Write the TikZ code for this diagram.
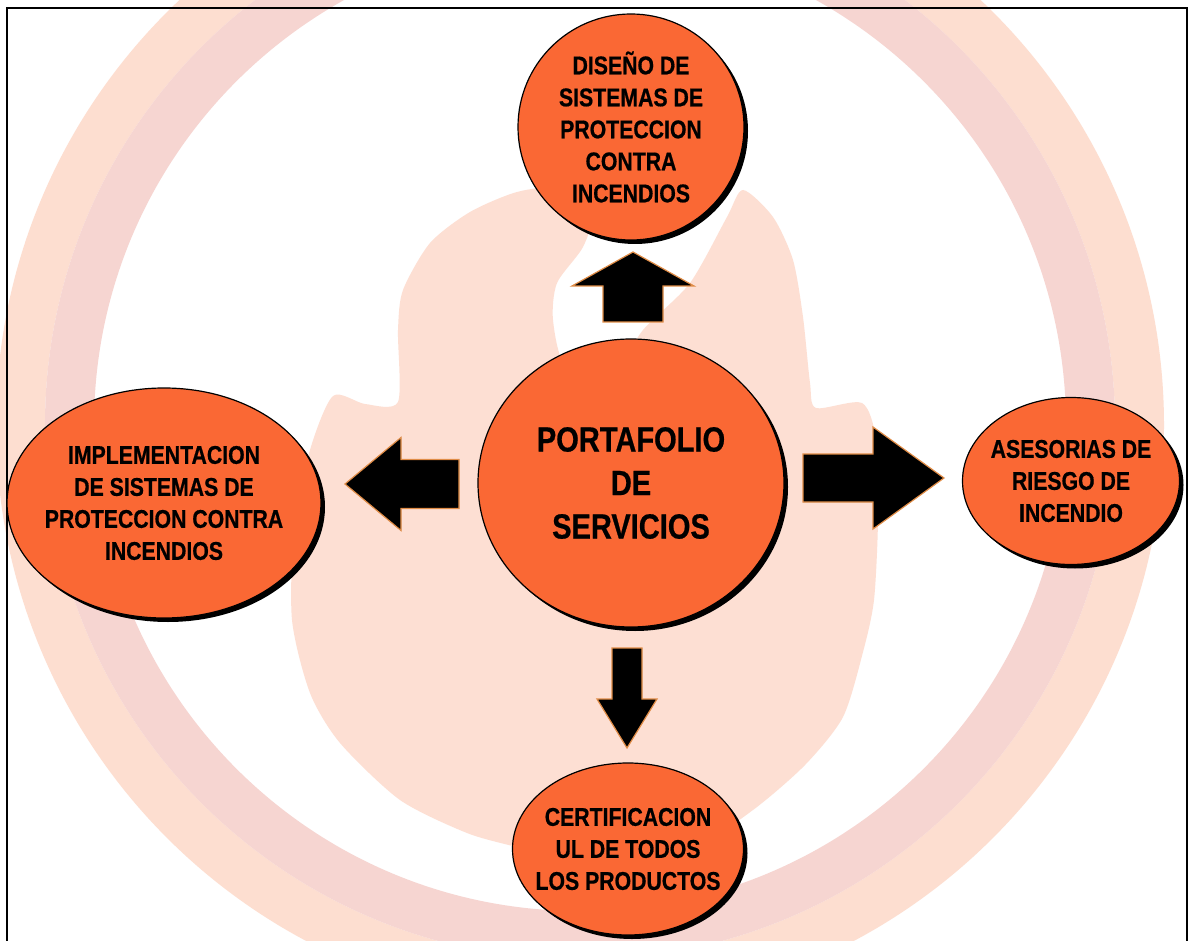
\documentclass[tikz,border=0pt]{standalone}
\usepackage{fontspec}
\newfontfamily\bubblefont{Liberation Sans}[FakeStretch=0.83,FakeBold=0.6]
\usetikzlibrary{shapes,shadows}

\definecolor{bubblefill}{RGB}{250,104,52}
\definecolor{arrowedge}{RGB}{224,140,70}
\definecolor{ringpeach}{RGB}{253,222,208}
\definecolor{ringpink}{RGB}{246,213,209}
\definecolor{flamepeach}{RGB}{253,223,211}

\begin{document}
\begin{tikzpicture}[
		x=1pt,y=-1pt,
		bubble/.style={
			ellipse,draw=black,line width=1.2pt,fill=bubblefill,inner ysep=0pt,inner xsep=-16pt,
			drop shadow={shadow xshift=4pt,shadow yshift=-4pt,fill=black,opacity=1},
			align=center,font=\bubblefont\bfseries\fontsize{25.6}{32}\selectfont,
		},
		blockarrow/.style={
			draw=arrowedge,fill=black,line width=1.2pt,line join=miter,
		},
	]

	\useasboundingbox (0,0) rectangle (1189,941);
	\clip (0,0) rectangle (1189,941);
	\fill[white] (0,0) rectangle (1189,941);

	% faint logo behind the diagram
	\fill[ringpeach,even odd rule] (580,425) circle[radius=584] (580,425) circle[radius=535];
	\fill[ringpink,even odd rule] (580,425) circle[radius=535] (580,425) circle[radius=486];
	\fill[flamepeach] plot[smooth cycle,tension=0.45] coordinates {
		(743,190) (773,217) (793,260) (803,317) (810,383) (816,408) (862,403)
		(876,440) (878,520) (874,600) (863,652) (843,717) (805,765) (753,810)
		(690,850) (600,870) (520,848) (467,833) (400,800) (340,743) (310,693)
		(292,620) (294,530) (310,450) (333,396) (365,404) (398,402) (398,330)
		(403,290) (430,243) (470,212) (517,192) (560,188) (592,212) (583,247)
		(557,283) (553,320) (565,365) (610,378) (643,330) (690,283) (727,217)
	};

	% frame
	\draw[line width=1.5pt] (7,8) rectangle (1187,990);

	% block arrows
	\filldraw[blockarrow] (633,252) -- (694,286) -- (663,286) -- (663,322)
		-- (603,322) -- (603,286) -- (572,286) -- cycle;
	\filldraw[blockarrow] (345,484) -- (401,437.5) -- (401,459.5) -- (459,459.5)
		-- (459,508.5) -- (401,508.5) -- (401,530.5) -- cycle;
	\filldraw[blockarrow] (944,478) -- (873,427) -- (873,454) -- (803,454)
		-- (803,502) -- (873,502) -- (873,529) -- cycle;
	\filldraw[blockarrow] (627,748) -- (657,699) -- (642,699) -- (642,648)
		-- (612,648) -- (612,699) -- (597,699) -- cycle;

	% service bubbles
	\node[bubble,minimum width=306pt,minimum height=288pt,
		font=\bubblefont\bfseries\fontsize{35}{43.5}\selectfont] (hub) at (631,483)
		{PORTAFOLIO\\DE\\SERVICIOS};
	\node[bubble,minimum width=226pt,minimum height=226pt] (design) at (631,127)
		{DISEÑO DE\\SISTEMAS DE\\PROTECCION\\CONTRA\\INCENDIOS};
	\node[bubble,minimum width=314pt,minimum height=230pt] (implement) at (164,503)
		{IMPLEMENTACION\\DE SISTEMAS DE\\PROTECCION CONTRA\\INCENDIOS};
	\node[bubble,minimum width=217pt,minimum height=167pt] (advice) at (1071,481)
		{ASESORIAS DE\\RIESGO DE\\INCENDIO};
	\node[bubble,minimum width=231pt,minimum height=172pt] (certify) at (628,849)
		{CERTIFICACION\\UL DE TODOS\\LOS PRODUCTOS};

\end{tikzpicture}
\end{document}
